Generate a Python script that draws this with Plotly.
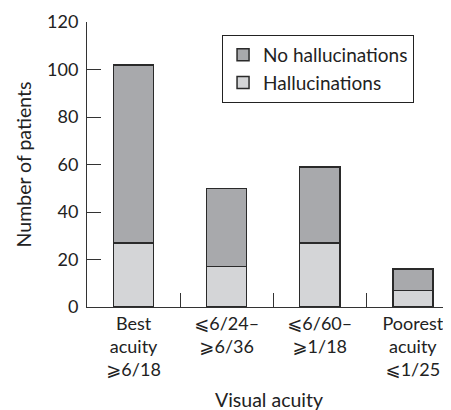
import plotly.graph_objects as go

categories = ["Best<br>acuity<br>⩾6/18", "⩽6/24–<br>⩾6/36", "⩽6/60–<br>⩾1/18", "Poorest<br>acuity<br>⩽1/25"]
hallucinations = [27, 17, 27, 7]
no_hallucinations = [75, 33, 32, 9]
y_ticks = [0, 20, 40, 60, 80, 100, 120]

FONT = "Lato, 'DejaVu Sans', sans-serif"

fig = go.Figure()
fig.add_trace(go.Bar(
    x=categories, y=hallucinations, name="Hallucinations",
    marker=dict(color="#d4d5d7", line=dict(color="#2a2a2a", width=1.5)),
    width=0.43,
))
fig.add_trace(go.Bar(
    x=categories, y=no_hallucinations, name="No hallucinations",
    marker=dict(color="#a8a9ac", line=dict(color="#2a2a2a", width=1.5)),
    width=0.43,
))

# page body has an 8px default margin: compensate so the plot sits where the reference's does
fig.update_layout(
    barmode="stack",
    width=451, height=410,
    margin=dict(l=79, r=8, t=14, b=111),
    paper_bgcolor="white", plot_bgcolor="white",
    font=dict(family=FONT, size=18, color="#222222"),
    showlegend=True,
    legend=dict(
        x=0.371, y=0.955, xanchor="left", yanchor="top",
        traceorder="reversed",
        bordercolor="#222222", borderwidth=1,
        bgcolor="white",
        font=dict(size=19),
        tracegroupgap=0,
    ),
)
fig.update_xaxes(
    range=[-0.5, 3.41],
    automargin=False,
    showline=True, linecolor="#333333", linewidth=1,
    ticks="inside", tickson="boundaries", ticklen=14, tickcolor="#333333",
    showgrid=False,
    title=dict(text="Visual acuity", standoff=13, font=dict(size=19.5)),
    tickfont=dict(size=18),
)
fig.update_yaxes(
    range=[0, 120], tickvals=y_ticks,
    automargin=False,
    showline=True, linecolor="#333333", linewidth=1,
    ticks="inside", ticklen=14, tickcolor="#333333",
    showgrid=False, zeroline=False,
    title=dict(text="Number of patients", standoff=10, font=dict(size=19.5)),
    tickfont=dict(size=18),
    ticklabelstandoff=4,
)

fig.write_html("out.html")
